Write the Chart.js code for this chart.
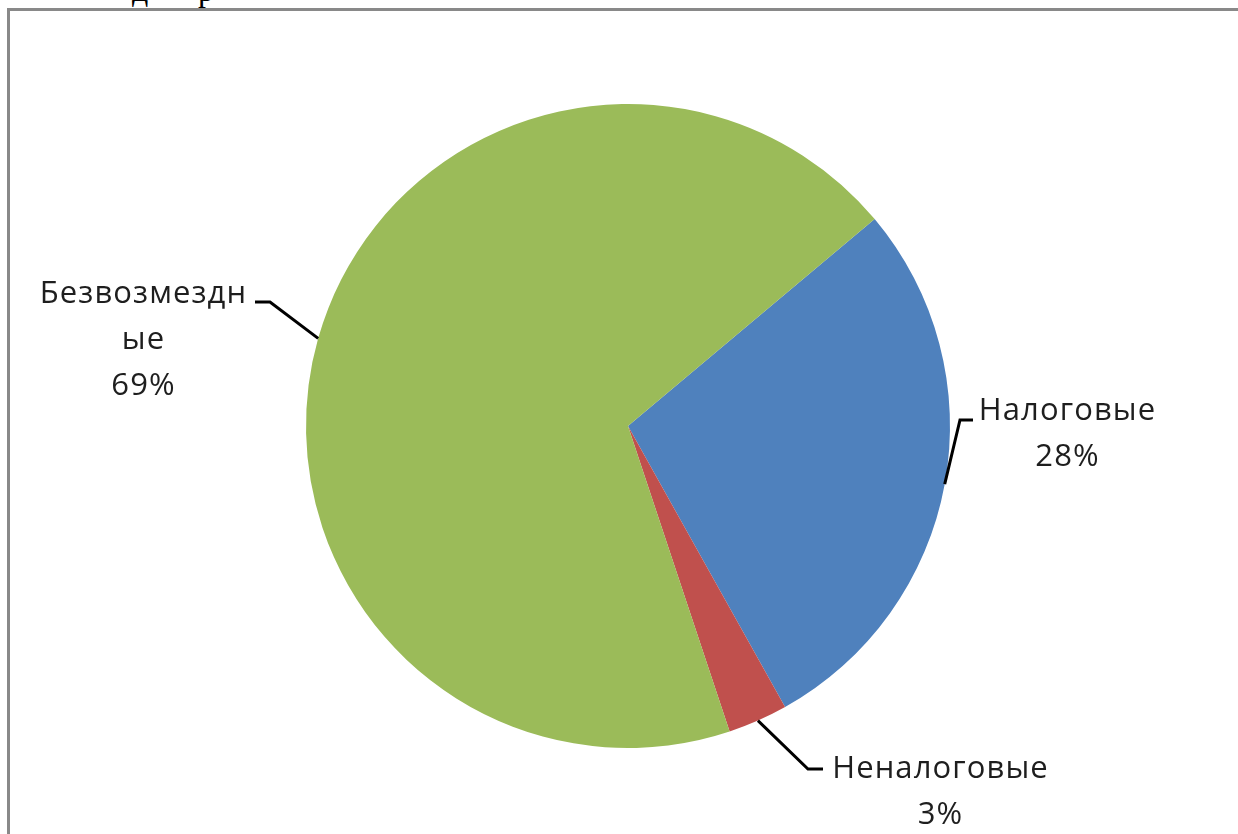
<!DOCTYPE html>
<html>
<head>
<meta charset="utf-8">
<script src="https://cdn.jsdelivr.net/npm/chart.js@4.4.1/dist/chart.umd.min.js"></script>
<style>
  html, body { margin: 0; padding: 0; background: #fff; overflow: hidden; }
  body { width: 1238px; height: 834px; position: relative; }
  #frame { position: absolute; left: 7px; top: 8px; width: 1300px; height: 900px;
           border-top: 3px solid #898989; border-left: 3px solid #898989; box-sizing: border-box; }
  .frag { position: absolute; font-family: "Liberation Serif", "DejaVu Serif", serif; font-size: 32px;
          line-height: 32px; color: #000; white-space: pre; }
  #wrap { position: absolute; left: 0; top: 0; width: 1238px; height: 834px; }
</style>
</head>
<body>
<div class="frag" style="left:132px; top:-26px;">д</div>
<div class="frag" style="left:198px; top:-26px;">р</div>
<div id="frame"></div>
<div id="wrap"><canvas id="c" width="1238" height="834"></canvas></div>
<script>
// ---- data ----
const categories = ['Налоговые', 'Неналоговые', 'Безвозмездные'];
const values = [28, 3, 69];
const colors = ['#4F81BD', '#C0504D', '#9BBB59'];

// ---- label layout (positions only) ----
const labelLayout = [
  { elbow: [960, 420], end: [973, 420], cx: 1067, y0: 420, lines: null },
  { elbow: [808, 769], end: [823, 769], cx: 940, y0: 778, lines: null },
  { elbow: [270, 302], end: [255, 302], cx: 143, y0: 303, lines: ['Безвозмездн', 'ые'] }
];
const lineH = 46;
const fontSpec = '31px "Open Sans", Lato, sans-serif';
const letterSp = '1.1px';

const total = values.reduce((a, b) => a + b, 0);

const labelPlugin = {
  id: 'pieLabels',
  afterDatasetsDraw(chart) {
    const ctx = chart.ctx;
    const meta = chart.getDatasetMeta(0);
    meta.data.forEach((arc, i) => {
      const L = labelLayout[i];
      const mid = (arc.startAngle + arc.endAngle) / 2;
      const ex = arc.x + Math.cos(mid) * arc.outerRadius;
      const ey = arc.y + Math.sin(mid) * arc.outerRadius;
      ctx.save();
      ctx.strokeStyle = '#000';
      ctx.lineWidth = 3;
      ctx.lineJoin = 'miter';
      ctx.beginPath();
      ctx.moveTo(ex, ey);
      ctx.lineTo(L.elbow[0], L.elbow[1]);
      ctx.lineTo(L.end[0], L.end[1]);
      ctx.stroke();
      const pct = Math.round(values[i] / total * 100) + '%';
      const lines = (L.lines || [categories[i]]).concat([pct]);
      ctx.font = fontSpec;
      if ('letterSpacing' in ctx) ctx.letterSpacing = letterSp;
      ctx.fillStyle = '#1e1e1e';
      ctx.textAlign = 'center';
      ctx.textBaseline = 'alphabetic';
      lines.forEach((t, k) => ctx.fillText(t, L.cx + 0.5, L.y0 + k * lineH));
      ctx.restore();
    });
  }
};

new Chart(document.getElementById('c'), {
  type: 'pie',
  data: {
    labels: categories,
    datasets: [{
      data: values,
      backgroundColor: colors,
      borderWidth: 0,
      hoverOffset: 0
    }]
  },
  options: {
    responsive: false,
    animation: false,
    rotation: 50,
    layout: { padding: { left: 306, right: 288, top: 104, bottom: 86 } },
    plugins: { legend: { display: false }, tooltip: { enabled: false } },
    events: []
  },
  plugins: [labelPlugin]
});
</script>
</body>
</html>
